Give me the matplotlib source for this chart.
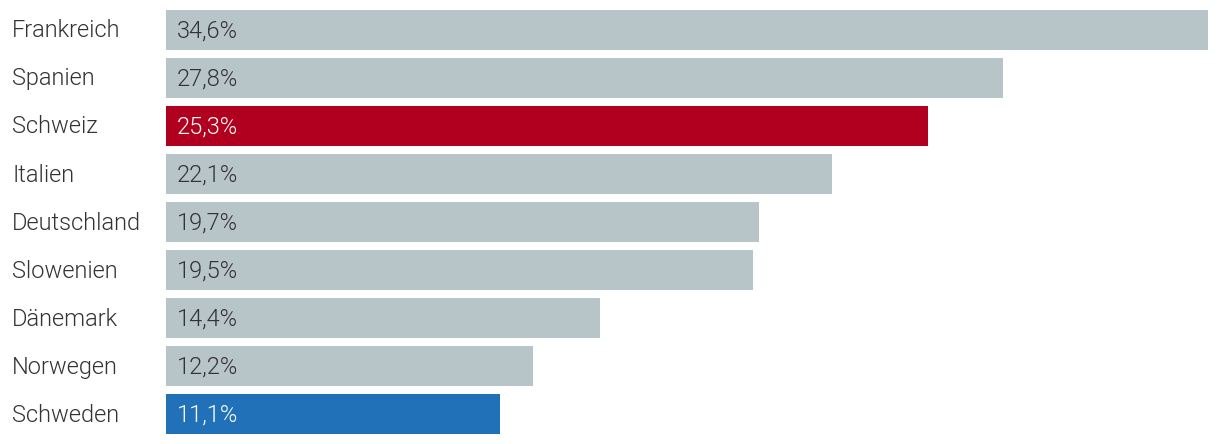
import matplotlib
matplotlib.use("Agg")
import matplotlib.pyplot as plt
from matplotlib.transforms import blended_transform_factory, offset_copy

countries = ["Frankreich", "Spanien", "Schweiz", "Italien", "Deutschland",
             "Slowenien", "Dänemark", "Norwegen", "Schweden"]
values = [34.6, 27.8, 25.3, 22.1, 19.7, 19.5, 14.4, 12.2, 11.1]
labels = ["34,6%", "27,8%", "25,3%", "22,1%", "19,7%", "19,5%", "14,4%", "12,2%", "11,1%"]

GREY = "#b7c5c8"
RED = "#b1001f"
BLUE = "#2171b9"
colors = [RED if c == "Schweiz" else BLUE if c == "Schweden" else GREY for c in countries]
text_colors = ["white" if c != GREY else "#333333" for c in colors]

W, H = 1220, 444
fig = plt.figure(figsize=(W / 100, H / 100), dpi=100)
ax = fig.add_axes([166 / W, 10 / H, (1208 - 166) / W, 424 / H])

ypos = list(range(len(countries)))
ax.barh(ypos, values, height=40 / 48, color=colors)
ax.set_xlim(0, max(values))
half = 20 / 48
ax.set_ylim(len(countries) - 1 + half, -half)
ax.axis("off")

font = dict(family=["Roboto", "DejaVu Sans"], fontweight=300, fontsize=17)
tr = offset_copy(blended_transform_factory(fig.transFigure, ax.transData), fig=fig, x=0, y=-1, units="dots")
for y, c, lab, tc in zip(ypos, countries, labels, text_colors):
    fig.text(12 / W, y, c, transform=tr, ha="left", va="center", color="#333333", **font)
    ax.annotate(lab, xy=(0, y), xytext=(11, -1), textcoords="offset pixels",
                ha="left", va="center", color=tc, **font)

fig.savefig("out.png", dpi=100)
